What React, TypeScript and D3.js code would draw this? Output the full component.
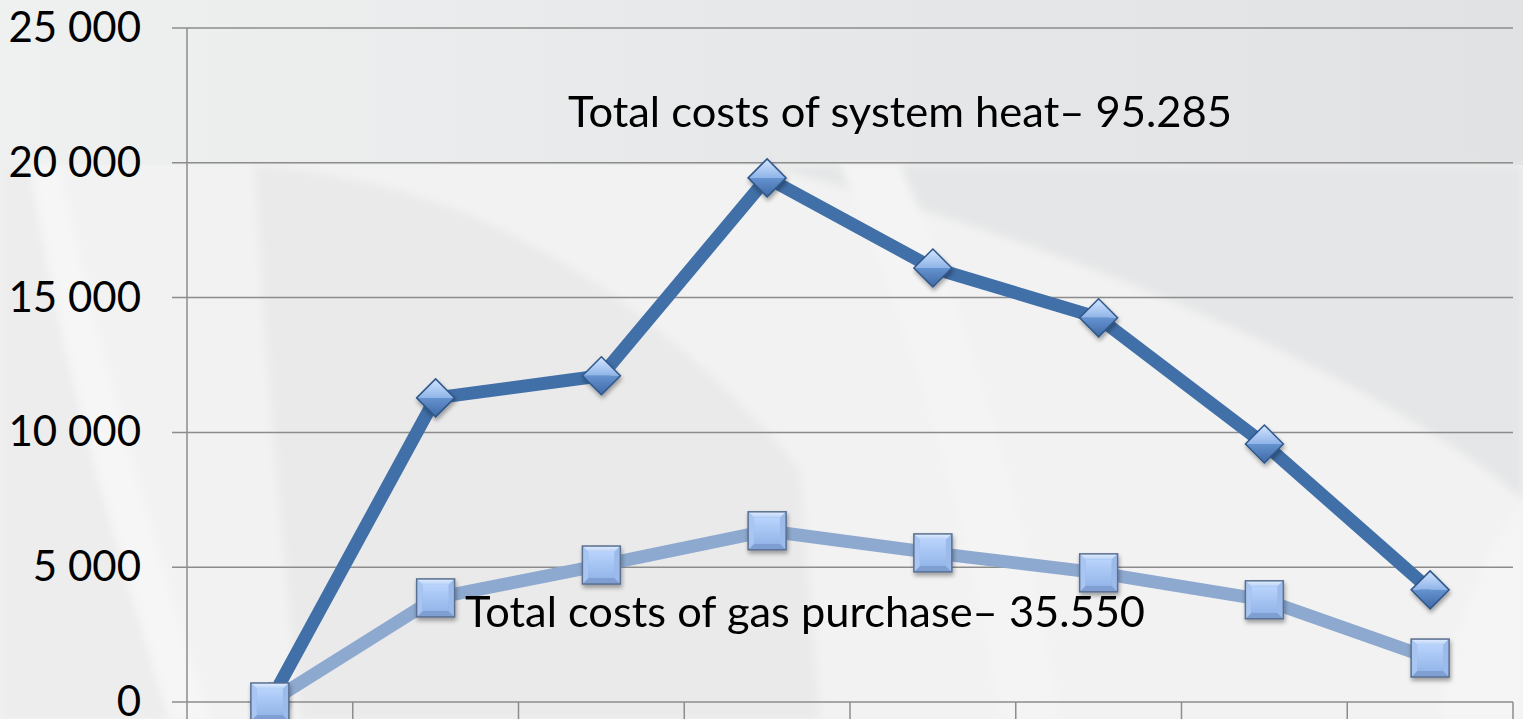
import React from "react";
import * as d3 from "d3";

// chart data
const categories = ["1", "2", "3", "4", "5", "6", "7", "8"];
const systemHeat = [0, 11280, 12100, 19440, 16100, 14250, 9570, 4160];
const gasPurchase = [0, 3860, 5080, 6350, 5530, 4790, 3790, 1630];
const yTicks = [0, 5000, 10000, 15000, 20000, 25000];
const heatLabel = "Total costs of system heat\u2013 95.285";
const gasLabel = "Total costs of gas purchase\u2013 35.550";

const W = 1523;
const H = 719;
const plotLeft = 187;
const plotRight = 1513;
const plotTop = 28;
const plotBottom = 702;

const FONT = "Lato, 'Open Sans', sans-serif";

export default function App() {
  const x = d3.scaleBand().domain(categories).range([plotLeft, plotRight]);
  const y = d3.scaleLinear().domain([0, 25000]).range([plotBottom, plotTop]);
  const cx = (i: number) => (x(categories[i]) as number) + x.bandwidth() / 2;

  const line = d3
    .line<number>()
    .x((_, i) => cx(i))
    .y((d) => y(d));

  const fmt = (v: number) => d3.format(",")(v).replace(/,/g, " ");

  const d = 19; // diamond half size
  const s = 19; // square half size

  return (
    <svg
      width={W}
      height={H}
      style={{ position: "absolute", left: 0, top: 0, display: "block" }}
    >
      <defs>
        <linearGradient id="topband" x1="0" x2="1" y1="0" y2="0">
          <stop offset="0" stopColor="#eff0f0" />
          <stop offset="0.5" stopColor="#e7e8e9" />
          <stop offset="1" stopColor="#e1e2e4" />
        </linearGradient>
        <linearGradient id="sqTop" x1="0" x2="0" y1="0" y2="1">
          <stop offset="0" stopColor="#e2eeff" />
          <stop offset="1" stopColor="#b4cff5" />
        </linearGradient>
        <linearGradient id="sqMid" x1="0" x2="0" y1="0" y2="1">
          <stop offset="0" stopColor="#b8d3fc" />
          <stop offset="1" stopColor="#94b6e9" />
        </linearGradient>
        <linearGradient id="dmTop" x1="0" x2="0" y1="0" y2="1">
          <stop offset="0" stopColor="#d3e5ff" />
          <stop offset="1" stopColor="#8fb4e8" />
        </linearGradient>
        <linearGradient id="dmBot" x1="0" x2="0" y1="0" y2="1">
          <stop offset="0" stopColor="#6593cf" />
          <stop offset="1" stopColor="#3f6aa6" />
        </linearGradient>
        <filter id="shadow" x="-50%" y="-50%" width="200%" height="200%">
          <feDropShadow dx="1" dy="3" stdDeviation="2" floodColor="#000" floodOpacity="0.35" />
        </filter>
        <filter id="soft" x="-10%" y="-10%" width="120%" height="120%">
          <feGaussianBlur stdDeviation="4" />
        </filter>
      </defs>

      {/* background */}
      <rect x={0} y={0} width={W} height={H} fill="#f2f2f2" />
      <rect x={0} y={0} width={W} height={165} fill="url(#topband)" />
      <g filter="url(#soft)">
        <path
          d="M255,165 C420,180 520,230 620,300 C700,360 760,420 800,470 L820,719 L300,719 C280,520 262,320 255,165 Z"
          fill="#eaeaeb"
        />
        <path
          d="M760,165 C900,200 1100,260 1300,360 C1400,410 1480,460 1523,500 L1523,165 Z"
          fill="#e5e6e7"
        />
        <path
          d="M1523,500 C1480,560 1450,640 1440,719 L1523,719 Z"
          fill="#f5f5f5"
        />
        <path d="M0,165 L30,165 C60,360 120,560 170,719 L0,719 Z" fill="#ededed" />
        <path d="M30,165 L60,165 C100,360 160,560 210,719 L170,719 C120,560 60,360 30,165 Z" fill="#f6f6f6" />
        <path
          d="M840,165 C900,300 960,480 1000,719 L1060,719 C1020,480 960,300 900,165 Z"
          fill="#f4f4f4"
        />
      </g>

      {/* gridlines and axis */}
      <g stroke="#8c8c8c" strokeWidth={1.5}>
        {yTicks.map((t) => (
          <line key={t} x1={172} x2={plotRight} y1={y(t)} y2={y(t)} />
        ))}
        <line x1={plotLeft} x2={plotLeft} y1={plotTop} y2={H} />
        {categories.map((c) => (
          <line
            key={c}
            x1={(x(c) as number) + x.bandwidth()}
            x2={(x(c) as number) + x.bandwidth()}
            y1={plotBottom}
            y2={H}
          />
        ))}
      </g>

      {/* y labels */}
      <g fontFamily={FONT} fontSize={42} fill="#000" textAnchor="end">
        {yTicks.map((t) => (
          <text key={t} x={141} y={y(t) + 14}>
            {fmt(t)}
          </text>
        ))}
      </g>

      {/* series lines */}
      <path d={line(systemHeat) as string} fill="none" stroke="#4170a8" strokeWidth={13} strokeLinejoin="round" />
      <g filter="url(#shadow)">
        {systemHeat.map((v, i) => {
          const px = cx(i);
          const py = y(v);
          return (
            <g key={i} transform={`translate(${px},${py})`}>
              <path d={`M${-d},0 L0,${-d} L${d},0 Z`} fill="url(#dmTop)" />
              <path d={`M${-d},0 L0,${d} L${d},0 Z`} fill="url(#dmBot)" />
              <path d={`M${-d},0 L0,${-d} L${d},0 L0,${d} Z`} fill="none" stroke="#2f5688" strokeWidth={1.5} />
            </g>
          );
        })}
      </g>

      <path d={line(gasPurchase) as string} fill="none" stroke="#8ea9cf" strokeWidth={13} strokeLinejoin="round" />
      <g filter="url(#shadow)">
        {gasPurchase.map((v, i) => {
          const px = cx(i);
          const py = y(v);
          const b = 6;
          return (
            <g key={i} transform={`translate(${px},${py})`}>
              <rect x={-s} y={-s} width={2 * s} height={2 * s} fill="#8fb0e2" />
              <path d={`M${-s},${-s} L${s},${-s} L${s - b},${-s + b} L${-s + b},${-s + b} Z`} fill="url(#sqTop)" />
              <path d={`M${-s},${s} L${s},${s} L${s - b},${s - b} L${-s + b},${s - b} Z`} fill="#7f9fd2" />
              <path d={`M${-s},${-s} L${-s + b},${-s + b} L${-s + b},${s - b} L${-s},${s} Z`} fill="#a9c6f2" />
              <path d={`M${s},${-s} L${s - b},${-s + b} L${s - b},${s - b} L${s},${s} Z`} fill="#9dbbea" />
              <rect x={-s + b} y={-s + b} width={2 * (s - b)} height={2 * (s - b)} fill="url(#sqMid)" />
              <rect x={-s} y={-s} width={2 * s} height={2 * s} fill="none" stroke="#5a6f90" strokeWidth={1.5} />
            </g>
          );
        })}
      </g>

      {/* annotations */}
      <g fontFamily={FONT} fontSize={42} fill="#000">
        <text x={568} y={127} textLength={664} lengthAdjust="spacingAndGlyphs">
          {heatLabel}
        </text>
        <text x={465} y={627} textLength={680} lengthAdjust="spacingAndGlyphs">
          {gasLabel}
        </text>
      </g>
    </svg>
  );
}
